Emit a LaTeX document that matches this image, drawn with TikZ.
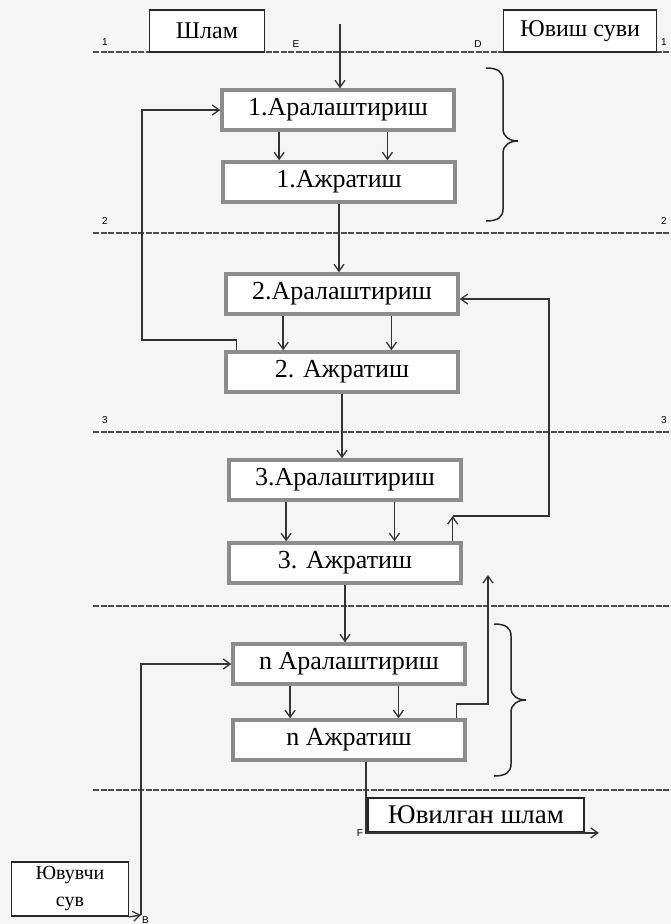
\documentclass[tikz,border=0pt]{standalone}
\usepackage{fontspec}
\setmainfont{Liberation Serif}
\setsansfont{Liberation Sans}
\usetikzlibrary{arrows.meta,positioning,calc}

\begin{document}
\begin{tikzpicture}[
    x=1pt, y=1pt,
    stagebox/.style={rectangle, draw=black!45, line width=3.4pt, fill=white,
                minimum width=232pt, minimum height=40pt, inner sep=0pt,
                font=\fontsize{26}{30}\selectfont},
    streambox/.style={rectangle, draw=black!85, line width=1.7pt, fill=white,
                inner sep=0pt, font=\fontsize{24}{28}\selectfont},
    flow/.style={-{Straight Barb[length=7pt,width=10pt,line width=1.3pt]},
                line width=1.4pt, black!80},
    stageline/.style={line width=1.6pt, black!70, dash pattern=on 6pt off 1.5pt},
    tag/.style={font=\sffamily\fontsize{10}{12}\selectfont, inner sep=1pt},
    bracket/.style={line width=1.5pt, black!85},
  ]
    \fill[black!4] (0,0) rectangle (671,-924);
    \useasboundingbox (0,0) rectangle (671,-924);

    \foreach \y in {52,233,432,606,790}
      \draw[stageline] (93,-\y) -- (671,-\y);

    \foreach \n/\y in {1/42,2/221,3/420} {
      \node[tag] (labL\n) at (105,-\y) {\n};
      \node[tag] (labR\n) at (664,-\y) {\n};
    }
    \node[tag] (ptE) at (296,-44) {E};
    \node[tag] (ptD) at (478,-44) {D};

    \node[streambox, minimum width=115pt, minimum height=42pt] (slime) at (207,-31) {Шлам};
    \node[streambox, minimum width=153pt, minimum height=42pt] (rinse) at (580,-31) {Ювиш суви};

    \node[stagebox] (mix1) at (338,-110) {1.Аралаштириш};
    \node[stagebox] (sep1) at (339,-182) {1.Ажратиш};
    \node[stagebox] (mix2) at (342,-294) {2.Аралаштириш};
    \node[stagebox] (sep2) at (342,-372) {2. Ажратиш};
    \node[stagebox] (mix3) at (345,-480) {3.Аралаштириш};
    \node[stagebox] (sep3) at (345,-563) {3. Ажратиш};
    \node[stagebox] (mixN) at (349,-664) {n Аралаштириш};
    \node[stagebox] (sepN) at (349,-740) {n Ажратиш};

    \node[streambox, minimum width=216pt, minimum height=34pt,
          font=\fontsize{27}{30}\selectfont] (washed) at (476,-815) {Ювилган шлам};
    \node[streambox, minimum width=117pt, minimum height=54pt, align=center,
          font=\fontsize{20}{27}\selectfont] (water) at (70,-889) {Ювувчи\\сув};

    \node[tag, anchor=east] (ptF) at ([xshift=-3pt]washed.south west) {F};

    \coordinate (feed) at (340,-24);
    \coordinate (leftrun) at (142,-340);
    \coordinate (rightrun) at (549,-516);
    \coordinate (kneeN) at (488,-704);
    \coordinate (backN) at (488,-575);
    \coordinate (inB) at (141,-915);
    \node[tag, anchor=north west] (ptB) at (inB) {B};

    \draw[flow] (feed) -- (feed |- mix1.north);

    \foreach \s in {1,2,3,N} {
      \draw[flow] ($(mix\s.south west)!0.25!(mix\s.south east)$) coordinate (a\s) -- (a\s |- sep\s.north);
      \draw[flow] ($(mix\s.south west)!0.71!(mix\s.south east)$) coordinate (b\s) -- (b\s |- sep\s.north);
    }

    \draw[flow] (sep1.south) -- (sep1.south |- mix2.north);
    \draw[flow] (sep2.south) -- (sep2.south |- mix3.north);
    \draw[flow] (sep3.south) -- (sep3.south |- mixN.north);

    \draw[flow] ([xshift=12pt]sep2.north west) |- (leftrun) |- (mix1.west);

    \draw[flow] ([xshift=-10pt]sep3.north east) coordinate (top3) -- (top3 |- rightrun) coordinate (up3);
    \draw[flow] (up3) -- (rightrun) |- ([yshift=-5pt]mix2.east);

    \draw[flow] ([xshift=-10pt]sepN.north east) |- (kneeN) -- (backN);

    \draw[flow] ([xshift=17pt]sepN.south) |- ([xshift=14pt]washed.south east);

    \draw[flow] (water.south east) -- (inB);
    \draw[flow] (inB) |- (mixN.west);

    % curly brackets beside the first and the last stage
    \draw[bracket] (486,-68) .. controls +(12,0) and +(0,8) .. ++(17,-12)
      -- ++(0,-49) .. controls +(0,-8) and +(-8,0) .. ++(15,-12)
      .. controls +(-8,0) and +(0,8) .. ++(-15,-12)
      -- ++(0,-56) .. controls +(0,-8) and +(12,0) .. ++(-17,-12);
    \draw[bracket] (494,-624) .. controls +(12,0) and +(0,8) .. ++(17,-12)
      -- ++(0,-52) .. controls +(0,-8) and +(-8,0) .. ++(15,-12)
      .. controls +(-8,0) and +(0,8) .. ++(-15,-12)
      -- ++(0,-52) .. controls +(0,-8) and +(12,0) .. ++(-17,-12);
  \end{tikzpicture}
\end{document}
